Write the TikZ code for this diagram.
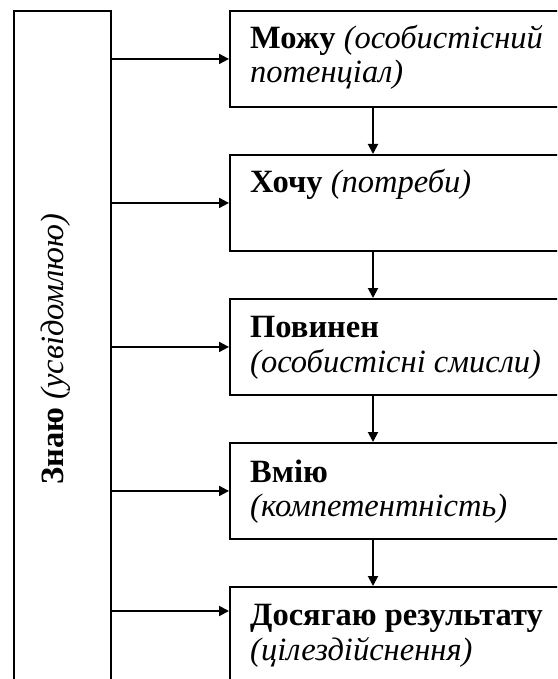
\documentclass[tikz,border=0pt]{standalone}
\usepackage{fontspec}
\setmainfont{Liberation Serif}
\usetikzlibrary{arrows.meta,calc}
\begin{document}
\begin{tikzpicture}[x=1pt,y=-1pt,
  frame/.style={draw,line width=1.9pt,rectangle,inner sep=0pt,anchor=north west},
  arr/.style={line width=1.9pt,-{Triangle[length=10pt,width=10pt]}},
  txt/.style={anchor=base west,inner sep=0pt,font=\fontsize{32.5}{36}\selectfont}]
\useasboundingbox (0,0) rectangle (557,679);
\clip (0,0) rectangle (557,679);
\node[frame,minimum width=97pt,minimum height=720pt] (L) at (13,10) {};
\node[rotate=90,inner sep=0pt,font=\fontsize{32.5}{36}\selectfont] (Lt) at (56,349) {\textbf{Знаю} \textit{(усвідомлюю)}};
\foreach \i/\t in {1/10,2/154,3/298,4/442}{
  \node[frame,minimum width=380pt,minimum height=96pt] (b\i) at (229,\t) {};
}
\node[frame,minimum width=380pt,minimum height=120pt] (b5) at (229,586) {};
\node[txt] (t1a) at (250,49) {\textbf{Можу} \textit{(особистісний}};
\node[txt] (t1b) at (250,83) {\textit{потенціал)}};
\node[txt] (t2a) at (250,193) {\textbf{Хочу} \textit{(потреби)}};
\node[txt] (t3a) at (250,337) {\textbf{Повинен}};
\node[txt] (t3b) at (250,372) {\textit{(особистісні смисли)}};
\node[txt] (t4a) at (250,482) {\textbf{Вмію}};
\node[txt] (t4b) at (250,516) {\textit{(компетентність)}};
\node[txt] (t5a) at (250,625) {\textbf{Досягаю результату}};
\node[txt] (t5b) at (250,660) {\textit{(цілездійснення)}};
\coordinate (a5) at (229,611);
\foreach \i in {1,2,3,4}{
  \draw[arr] (L.east |- b\i.west) -- (b\i.west);
}
\draw[arr] (L.east |- a5) -- (a5);
\coordinate (vx) at (373,0);
\foreach \i/\j in {1/2,2/3,3/4,4/5}{
  \draw[arr] (vx |- b\i.south) -- (vx |- b\j.north);
}
\end{tikzpicture}
\end{document}
